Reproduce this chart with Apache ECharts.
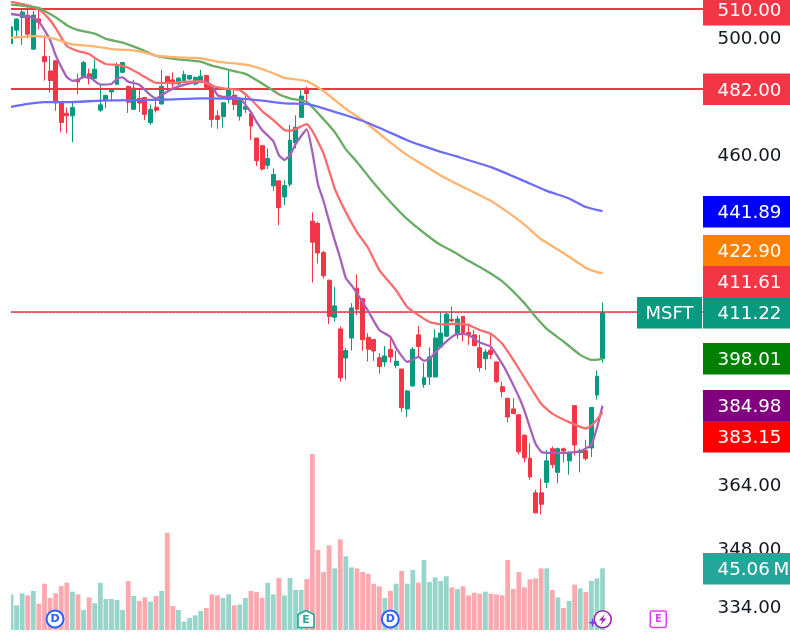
<!DOCTYPE html>
<html>
<head>
<meta charset="utf-8">
<title>MSFT</title>
<style>
  html, body { margin: 0; padding: 0; background: #fff; }
  #main { width: 790px; height: 632px; }
</style>
<script src="https://cdn.jsdelivr.net/npm/echarts@6/dist/echarts.min.js"></script>
</head>
<body>
<div id="main"></div>
<script>
// daily candles
var opens = [
  497.7,502.4,506.9,507.8,495.7,506.4,493.1,488.1,491.6,477.3,
  473.7,472.8,485,486.2,487.1,485.5,474.7,478.2,480.9,483.5,
  487.6,482.8,475,478.7,479,470.5,475.7,476.8,486.2,485,
  483.6,484.1,485.3,483.6,484.6,486.5,483.2,472.8,472.5,478.3,
  479.8,472.7,475,473.5,465.4,462.9,456.5,449.9,451.5,446.4,
  450.4,463.8,472.3,482.1,438.8,438.1,429.1,420.8,409.9,406.5,
  398.2,403.9,418.4,415.3,404.1,403.5,398.3,397.1,400.6,396.1,
  395.1,384.1,390.4,404.8,390.8,392.9,392.9,401.3,404.4,409.3,
  404.8,410.1,405.5,404.8,401.1,398,400.4,397.1,390.2,387,
  384.1,382.5,377,370.9,361.9,361.9,364.6,373.4,367.2,373.4,
  370.2,385,372.4,372.9,373.6,387.9,398
];
var closes = [
  503.6,506.4,508.9,501,507.8,505.2,491.3,484.8,477.2,470.6,
  472.8,475.6,484.3,491,485.5,488.7,476.5,479.7,481.8,489.9,
  491,477.4,482.2,477.1,473.3,475,474.7,482.8,484.3,483.6,
  485.6,486.9,486.5,485.8,486.3,482.3,471.6,471.6,477.2,482.1,
  476.6,478.1,475.9,469.4,458,455.3,458.7,453.5,443,450,
  464.7,469,479.5,480.3,432.3,429,422.1,410.1,413.2,392.7,
  400.3,412.6,412.2,403.4,400.7,400.2,395.8,398.8,398.5,397.3,
  384.4,389,400.7,401.5,392.7,398.5,403.9,405.3,410.8,408.8,
  409.4,405.5,404.8,401.7,395.5,399.9,399.2,391.6,388.8,381.9,
  382.8,372.6,371,366,356.8,359,370.2,369.2,373.4,372.8,
  372.3,374.4,372.9,370.8,384.5,393.1,411.22
];
var lows = [
  497.3,500.1,497.2,499.5,495.4,502.7,484.8,480.6,474.5,467.3,
  467,464,480,486,483.4,485.3,474.1,475.4,477.9,483.2,
  487.4,473.8,474.9,474.1,471.4,469.8,473.9,476.6,481.3,481.5,
  483.3,483.9,485,483.1,484.3,482.1,469,468.5,468.9,477,
  474.7,471.2,473.8,464.7,456.3,454.8,455.3,448.3,437.5,443.8,
  449.6,462,472.2,477,420.1,425.8,421.3,407.9,408.6,391.6,
  392.1,400.3,410.5,400.2,397.2,397.4,393.8,395.7,396.9,395.3,
  383.3,381.9,390.2,398.6,389.9,390.7,392.8,401,404.3,408.5,
  403.6,402.9,401.9,401.6,394.4,394.9,397.9,391.2,387.3,380.5,
  382.7,371.9,369.8,365.3,356.7,356.4,363.1,368.3,364.4,369.8,
  366.6,371.6,367.2,370.3,371.2,386.6,396.9
];
var highs = [
  503.8,506.6,509.6,510.8,509.3,510.2,500.7,493.3,491.8,477.5,
  475.6,477.5,487.1,491.6,488.9,492.1,483.2,480,482.2,491,
  491.2,482.9,485,482.1,479.2,476.6,478.7,488.5,486.4,487.6,
  485.9,488.2,486.8,486.2,488.5,486.8,483.3,474.7,477.4,488.7,
  481.5,478.7,479.6,474.4,465.5,463,462,455.5,451.6,451.7,
  469.8,473,481.5,482.7,441.5,438.6,429.7,420.9,418.8,407.2,
  401,414,422.5,415.4,405.3,403.6,399.6,401.6,404.3,400.3,
  395.2,389.3,401.3,407.3,396.8,401.2,406.4,411.2,411.2,413,
  410.3,410.1,408.1,406.2,404.8,400.7,404.8,397.2,391.6,387.1,
  387,382.6,377.2,374.8,362.7,365.5,373.1,374,373.7,373.7,
  372.7,385.1,373.4,375.8,384.6,394.7,414.2
];
// volume in millions
var volumes = [
  26,18,26.8,25.3,28.5,19.2,33.8,23.4,26.8,32.1,
  34.5,28,26,14.6,23.8,19.5,34.5,22.6,22.6,21.9,
  14.6,35.8,24.8,21.2,23.8,20.7,24.8,28.5,71,17.5,
  14.6,6.1,8.8,10.7,13.9,16.1,26,25.3,23.4,26,
  18,18.7,23.4,28.5,27.7,23.4,34.5,26,38,25.3,
  38,29.2,29.2,37.2,128.5,58.4,42.3,61.8,45,66.2,
  53.8,45.7,45,42.3,41.1,33.8,31.9,23.4,28.5,33.8,
  43.1,33.8,43.8,34.5,51.1,35,38.4,35.8,39.2,31.1,
  29.9,31.9,25.3,27.2,26.5,28,26.5,26,25.3,51.1,
  29.9,42.3,31.1,37,37.7,45,45,29.2,23.8,16.1,
  21.2,33.1,30.4,27.7,35.8,37.7,45.06
];

// moving averages, [bar, price] samples
var purpleLine = [[0,508.2],[2,507.6],[4,506.8],[5,505.4],[6,502.4],[7,498.9],[8,493.6],[9,489.5],[10,486],[11,484.7],[12,485],[13,486],[14,486],[15,484.6],[16,483.4],[18,483.6],[19,485.4],[20,485.9],[21,484.4],[23,483.3],[25,479.8],[26,478.7],[27,479.8],[29,482],[31,483.3],[33,484.2],[35,484.3],[36,483],[37,479.8],[38,479.2],[39,479.2],[41,478.7],[43,474],[44,470.8],[45,468.1],[47,464.4],[48,459.8],[49,458.2],[50,459.8],[51,463.4],[53,468.3],[54,460.8],[55,450.4],[56,445.1],[57,438.8],[58,432.9],[59,427.4],[60,421.4],[61,419.3],[63,414.3],[64,411.7],[66,406.2],[68,404.2],[69,401.1],[71,397.1],[73,398.5],[74,397.4],[75,398],[77,401.4],[79,404.2],[80,405.1],[82,404.8],[84,402.6],[86,401.4],[88,396.6],[89,393.8],[91,387.4],[92,383.6],[93,379],[94,374.7],[95,372.6],[96,372.3],[99,372.3],[102,372.7],[104,374.5],[105,379],[106,384.98]];
var redLine = [[0,512.6],[2,511.8],[3,511.3],[5,509.9],[7,506],[8,503.1],[10,496.8],[12,495],[14,494],[15,492.6],[17,490.5],[19,490.2],[21,489.2],[23,487.1],[24,486],[26,484],[29,484],[31,484.3],[34,484.6],[36,483],[38,482.1],[41,481.5],[43,478.4],[45,474.4],[47,471.4],[49,468.1],[50,467.8],[51,468.4],[53,470],[54,467.8],[56,460.4],[58,449.1],[60,441.6],[62,435.4],[64,430.5],[66,423.8],[69,417.8],[71,412.9],[73,410.5],[75,408.5],[77,407.8],[80,408],[82,407.6],[84,406.2],[86,405.1],[88,402.3],[90,397.7],[92,392.7],[95,385.5],[97,382.8],[100,380.5],[103,378.8],[104,379.6],[105,381.2],[106,383.15]];
var greenLine = [[0,511.6],[2,511.2],[5,510.4],[6,509.3],[8,507],[10,504.2],[12,502.4],[15,501.2],[17,499.3],[20,498],[22,496.6],[24,495],[26,493.3],[30,492.1],[34,491.3],[36,489.9],[39,488.5],[42,487.1],[45,483.8],[48,480.1],[50,478.7],[53,477.5],[55,473.7],[58,467.4],[60,461.7],[62,457.6],[65,450.8],[68,444.8],[71,439.4],[75,433.8],[77,431.4],[79,429.7],[82,426.6],[85,423.8],[88,420.5],[92,414],[94,410],[96,406.5],[99,402.9],[102,399.1],[104,397.7],[105,397.7],[106,398.01]];
var orangeLine = [[0,499.7],[4,500.3],[6,500],[8,499.2],[11,497.4],[15,496.7],[18,495.7],[21,495.4],[24,494.5],[26,493.4],[30,492.8],[34,492.5],[37,491.3],[41,490.5],[43,489.9],[47,487.3],[49,485.7],[53,484.6],[56,481.2],[60,475.1],[63,471.4],[67,465.4],[71,459.8],[73,457.6],[77,453.2],[80,450.4],[86,445.1],[89,441.6],[92,437.7],[95,433.2],[99,429],[103,424.5],[105,423.2],[106,422.9]];
var blueLine = [[0,475.8],[3,476.8],[6,477.4],[10,477.4],[16,477.9],[22,478.1],[28,478.3],[34,478.7],[41,478.6],[45,477.9],[49,477],[53,476.8],[56,475.3],[60,473],[64,470.4],[71,464.7],[73,463.3],[77,460.9],[80,459.3],[86,455.9],[92,451.4],[96,448.3],[100,445.9],[103,443.2],[106,441.89]];

var tickValues = [500, 460, 364, 348, 334];
var lastPrice = 411.22;
var alertLevels = [510, 482, 411.61];
var tagTexts = ['510.00', '482.00', '441.89', '422.90', '411.61', '411.22', '398.01', '384.98', '383.15', '45.06\u2009M'];

var UP = '#089981', DOWN = '#F23645';
var FONT = '"DejaVu Sans", sans-serif';

// slots include the empty bars to the right of the last candle
var slots = [];
for (var i = 0; i < 125; i++) { slots.push(i); }

var candles = [], volBars = [];
for (var j = 0; j < opens.length; j++) {
  candles.push([opens[j], closes[j], lows[j], highs[j]]);
  volBars.push({
    value: volumes[j],
    itemStyle: { color: closes[j] >= opens[j] ? 'rgba(8,153,129,0.42)' : 'rgba(247,82,95,0.5)' }
  });
}

function maSeries(name, data, color) {
  return {
    name: name, type: 'line', data: data, xAxisIndex: 0, yAxisIndex: 0,
    smooth: 0.15, showSymbol: false, silent: true, z: 6,
    lineStyle: { color: color, width: 2.3 }
  };
}

// price tags on the right axis (tags get pushed apart so they do not overlap)
var tagBoxes = [
  [-6, DOWN], [73.5, DOWN], [196, '#0000FF'], [235, '#FF8000'], [266, DOWN],
  [297, UP], [343, '#008000'], [390, '#800080'], [421, '#FF0000'], [553, '#26A69A']
];
var graphics = [];
// first candle sits half outside the plot, same as the source picture
graphics.push({
  type: 'rect', z: 10, shape: { x: 0, y: 0, width: 11, height: 632 },
  style: { fill: '#fff' }
});
tagBoxes.forEach(function (b, k) {
  graphics.push({
    type: 'rect', z: 20, shape: { x: 703, y: b[0], width: 87, height: 31.5 },
    style: { fill: b[1] }
  });
  graphics.push({
    type: 'text', z: 21, x: 717.5, y: b[0] + 17.5,
    style: { text: tagTexts[k], fill: '#fff', font: '18.3px ' + FONT, align: 'left', verticalAlign: 'middle' }
  });
});
graphics.push({
  type: 'rect', z: 20, shape: { x: 637, y: 297, width: 65, height: 31.5 },
  style: { fill: UP }
});
graphics.push({
  type: 'text', z: 21, x: 669.5, y: 314.5,
  style: { text: 'MSFT', fill: '#fff', font: '18px ' + FONT, align: 'center', verticalAlign: 'middle' }
});

// event badges along the bottom
function dividend(x) {
  graphics.push({ type: 'circle', z: 15, shape: { cx: x, cy: 619, r: 8.5 }, style: { fill: '#fff', stroke: '#2962FF', lineWidth: 2 } });
  graphics.push({ type: 'text', z: 16, x: x, y: 619.5, style: { text: 'D', fill: '#2962FF', font: 'bold 11px ' + FONT, align: 'center', verticalAlign: 'middle' } });
}
dividend(55);
dividend(390.3);
graphics.push({
  type: 'polygon', z: 15,
  shape: { points: [[306, 610.5], [314, 614.5], [314, 627.5], [298, 627.5], [298, 614.5]] },
  style: { fill: '#fff', stroke: '#26A69A', lineWidth: 1.6 }
});
graphics.push({ type: 'text', z: 16, x: 306, y: 620, style: { text: 'E', fill: '#26A69A', font: 'bold 11px ' + FONT, align: 'center', verticalAlign: 'middle' } });
graphics.push({ type: 'circle', z: 15, shape: { cx: 602.7, cy: 619.3, r: 8.5 }, style: { fill: '#fff', stroke: '#9C27B0', lineWidth: 1.6 } });
graphics.push({
  type: 'polygon', z: 16,
  shape: { points: [[605, 614], [599, 620.5], [602.5, 620.5], [600.5, 625], [606.5, 618.5], [603, 618.5]] },
  style: { fill: '#9C27B0' }
});
graphics.push({
  type: 'polygon', z: 17,
  shape: { points: [[592.7, 618], [593.8, 621.6], [597.4, 622.7], [593.8, 623.8], [592.7, 627.4], [591.6, 623.8], [588, 622.7], [591.6, 621.6]] },
  style: { fill: '#7E3FF2' }
});
graphics.push({
  type: 'rect', z: 15, shape: { x: 650.3, y: 611, width: 16, height: 16.5, r: 2 },
  style: { fill: '#fff', stroke: '#E040FB', lineWidth: 1.6 }
});
graphics.push({ type: 'text', z: 16, x: 658.3, y: 619.5, style: { text: 'E', fill: '#E040FB', font: 'bold 10px ' + FONT, align: 'center', verticalAlign: 'middle' } });

var myChart = echarts.init(document.getElementById('main'), null, { renderer: 'canvas' });

var option = {
  animation: false,
  backgroundColor: '#fff',
  grid: [
    { left: 11, right: 87, top: 0, height: 632 },
    { left: 11, right: 87, top: 0, height: 630 }
  ],
  xAxis: [
    { type: 'category', data: slots, gridIndex: 0, boundaryGap: false, show: false },
    { type: 'category', data: slots, gridIndex: 1, boundaryGap: false, show: false }
  ],
  yAxis: [
    {
      type: 'log', gridIndex: 0, position: 'right', min: 327.9, max: 513.27,
      splitLine: { show: false }, axisLine: { show: false }, axisTick: { show: false },
      axisLabel: {
        customValues: tickValues, margin: 14.5, color: '#131722', fontSize: 18.3, fontFamily: FONT,
        verticalAlign: 'top', lineHeight: 18, padding: [-7, 0, 0, 0],
        formatter: function (v) { return Number(v).toFixed(2); }
      }
    },
    {
      type: 'value', gridIndex: 1, min: 0, max: 460, show: false, splitLine: { show: false }
    }
  ],
  series: [
    {
      name: 'Volume', type: 'bar', data: volBars, xAxisIndex: 1, yAxisIndex: 1,
      barWidth: 4.8, silent: true, z: 1
    },
    {
      name: 'MSFT', type: 'candlestick', data: candles, xAxisIndex: 0, yAxisIndex: 0,
      barWidth: 4.4, silent: true, z: 3,
      itemStyle: { color: UP, color0: DOWN, borderColor: UP, borderColor0: DOWN, borderWidth: 1 },
      markLine: {
        silent: true, symbol: 'none', animation: false, label: { show: false },
        data: [
          { yAxis: alertLevels[0], lineStyle: { color: DOWN, width: 2, type: 'solid', opacity: 1 } },
          { yAxis: alertLevels[1], lineStyle: { color: DOWN, width: 2, type: 'solid', opacity: 1 } },
          { yAxis: lastPrice, lineStyle: { color: UP, width: 1, type: [1, 2], opacity: 1 } },
          { yAxis: alertLevels[2], lineStyle: { color: DOWN, width: 1.5, type: 'solid', opacity: 1 } }
        ]
      }
    },
    maSeries('EMA 5', purpleLine, '#A662BA'),
    maSeries('EMA 10', redLine, '#FB6C6C'),
    maSeries('EMA 20', greenLine, '#68AC66'),
    maSeries('EMA 50', orangeLine, '#FFB36E'),
    maSeries('EMA 100', blueLine, '#6C6CFF')
  ],
  graphic: graphics
};

myChart.setOption(option);
</script>
</body>
</html>
